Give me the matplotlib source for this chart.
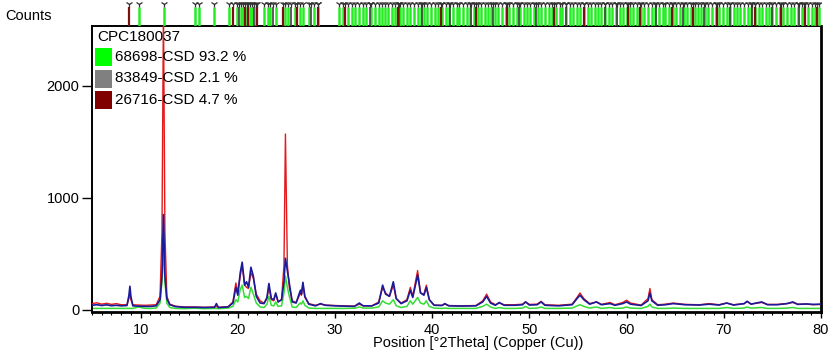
import numpy as np
import matplotlib.pyplot as plt
from matplotlib.patches import Rectangle
from matplotlib.ticker import MultipleLocator

plt.rcParams['font.family'] = ['Liberation Sans', 'DejaVu Sans']

# scan positions [deg 2theta]
two_theta = [5.0, 5.5, 6.0, 6.5, 7.0, 7.5, 8.0, 8.6, 8.8, 8.9, 9.0, 9.2, 9.8, 10.5, 11.0, 11.6,
             12.0, 12.2, 12.35, 12.5, 12.7, 13.0, 13.6, 14.5, 15.6, 16.5, 17.6, 17.8, 18.0, 19.0,
             19.5, 19.8, 20.0, 20.25, 20.45, 20.7, 20.9, 21.1, 21.35, 21.6, 21.9, 22.3, 22.7, 23.0,
             23.2, 23.45, 23.7, 23.9, 24.15, 24.5, 24.75, 24.9, 25.1, 25.3, 25.6, 26.0, 26.3, 26.45,
             26.55, 26.7, 26.9, 27.3, 28.0, 28.5, 29.0, 30.0, 31.0, 32.0, 32.5, 32.9, 33.8, 34.5,
             34.9, 35.2, 35.6, 36.0, 36.3, 36.8, 37.4, 37.75, 38.0, 38.5, 38.8, 39.15, 39.4, 39.7,
             40.2, 41.0, 41.3, 41.7, 43.0, 44.5, 45.2, 45.6, 46.0, 46.5, 46.9, 47.4, 48.5, 49.3,
             49.6, 50.0, 50.8, 51.2, 51.6, 53.0, 54.4, 54.9, 55.2, 55.6, 56.2, 56.9, 57.4, 58.3,
             58.8, 59.6, 60.0, 60.4, 61.5, 62.2, 62.4, 62.6, 63.2, 64.0, 64.8, 66.0, 67.5, 68.5,
             69.5, 70.3, 71.0, 72.1, 72.4, 72.8, 73.9, 74.5, 75.5, 76.5, 77.1, 77.6, 78.5, 79.2, 80.0]

observed = [40, 45, 38, 44, 36, 40, 35, 38, 130, 210, 120, 35, 32, 30, 30, 35,
            90, 300, 850, 300, 100, 45, 28, 22, 22, 20, 22, 55, 20, 25,
            60, 200, 130, 330, 425, 220, 250, 200, 380, 300, 120, 60, 55, 110,
            235, 100, 90, 150, 70, 90, 250, 460, 350, 240, 70, 60, 140, 175,
            140, 245, 120, 50, 35, 55, 40, 35, 32, 30, 60, 35, 35, 60,
            220, 140, 120, 250, 100, 55, 80, 175, 110, 310, 150, 130, 200, 90,
            40, 38, 55, 35, 33, 35, 70, 120, 60, 40, 65, 40, 40, 45,
            70, 42, 45, 70, 40, 35, 45, 100, 130, 90, 50, 70, 45, 55,
            40, 55, 70, 50, 38, 80, 150, 80, 40, 45, 55, 45, 42, 50,
            42, 60, 42, 55, 75, 50, 70, 45, 45, 55, 70, 48, 52, 48, 50]

calculated = [55, 62, 50, 58, 48, 55, 45, 45, 100, 150, 90, 45, 42, 40, 42, 45,
              120, 700, 2700, 700, 120, 50, 32, 25, 25, 22, 24, 30, 22, 28,
              70, 240, 160, 300, 400, 220, 200, 190, 330, 280, 140, 80, 60, 100,
              200, 90, 80, 140, 70, 90, 400, 1570, 400, 200, 80, 65, 120, 150,
              130, 220, 110, 55, 40, 50, 42, 38, 35, 33, 50, 35, 35, 70,
              200, 150, 120, 220, 100, 60, 90, 200, 120, 350, 150, 140, 220, 90,
              42, 40, 50, 38, 35, 38, 80, 140, 70, 45, 60, 45, 45, 50,
              70, 48, 50, 75, 45, 40, 50, 110, 150, 100, 55, 70, 48, 65,
              45, 65, 85, 60, 42, 100, 190, 90, 45, 50, 60, 48, 45, 55,
              45, 60, 45, 55, 75, 52, 65, 48, 48, 55, 65, 50, 50, 45, 48]

phase_68698 = [12, 12, 12, 12, 12, 12, 12, 12, 12, 12, 12, 12, 25, 12, 12, 15,
               60, 250, 560, 250, 60, 20, 12, 10, 14, 10, 12, 12, 10, 15,
               30, 90, 70, 180, 220, 110, 120, 100, 200, 140, 60, 25, 20, 50,
               120, 40, 35, 70, 30, 35, 150, 300, 200, 120, 25, 20, 50, 60,
               50, 80, 40, 15, 12, 12, 12, 12, 12, 14, 25, 15, 15, 25,
               80, 60, 50, 90, 35, 20, 30, 80, 50, 110, 60, 50, 80, 30,
               15, 12, 15, 12, 12, 12, 30, 50, 25, 12, 20, 12, 12, 15,
               30, 12, 15, 25, 12, 12, 15, 35, 45, 30, 15, 25, 12, 20,
               12, 15, 25, 15, 12, 30, 50, 25, 12, 12, 15, 12, 12, 12,
               12, 20, 12, 15, 25, 15, 20, 12, 12, 15, 20, 12, 12, 12, 12]

# reference pattern stick positions
sticks_68698 = [9.8, 12.4, 15.6, 16.0, 17.6, 19.1, 19.9, 20.3, 20.5, 20.9, 21.3, 21.5, 21.9,
                22.7, 23.1, 23.3, 23.9, 24.9, 25.2, 25.9, 26.4, 26.7, 27.3, 27.8, 28.2,
                30.4, 30.8, 31.3, 31.7, 32.1, 32.5, 32.9, 33.2, 33.7, 34.1, 34.5, 34.8, 35.1,
                35.5, 35.9, 36.2, 36.7, 37.0, 37.4, 37.7, 38.1, 38.5, 38.8, 39.2, 39.5, 39.9,
                40.3, 40.6, 41.0, 41.4, 41.7, 42.1, 42.5, 42.8, 43.2, 43.6, 43.9, 44.3, 44.7,
                45.0, 45.4, 45.7, 46.1, 46.5, 46.8, 47.2, 47.6, 47.9, 48.3, 48.7, 49.0, 49.4,
                49.8, 50.1, 50.5, 50.9, 51.2, 51.6, 52.0, 52.3, 52.7, 53.1, 53.4, 53.8, 54.2,
                54.5, 54.9, 55.2, 55.6, 56.0, 56.3, 56.7, 57.1, 57.4, 57.8, 58.2, 58.5, 58.9,
                59.3, 59.6, 60.0, 60.4, 60.7, 61.1, 61.5, 61.8, 62.2, 62.6, 62.9, 63.3, 63.7,
                64.0, 64.4, 64.8, 65.1, 65.5, 65.9, 66.2, 66.6, 67.0, 67.3, 67.7, 68.1, 68.4,
                68.8, 69.2, 69.5, 69.9, 70.3, 70.6, 71.0, 71.4, 71.7, 72.1, 72.5, 72.8, 73.2,
                73.6, 73.9, 74.3, 74.7, 75.0, 75.4, 75.8, 76.1, 76.5, 76.9, 77.2, 77.6, 78.0,
                78.3, 78.7, 79.1, 79.4, 79.8]
sticks_26716 = [8.8, 19.5, 20.7, 21.1, 22.0, 24.6, 26.1, 28.3, 31.0, 36.5, 40.9, 44.5, 47.7,
                52.5, 55.6, 60.1, 61.4, 64.7, 66.8, 69.3, 73.2, 75.9, 78.4, 79.6]
sticks_83849 = [20.1, 21.7, 23.6, 25.5, 27.5, 33.6, 36.6, 39.0, 41.8, 44.0, 46.3, 48.9, 50.7,
                53.8, 57.8, 59.0, 63.0, 65.8, 68.0, 70.6, 72.9, 75.0, 77.7]

legend_title = 'CPC180037'
legend_labels = ['68698-CSD 93.2 %', '83849-CSD 2.1 %', '26716-CSD 4.7 %']
legend_colors = ['#00ff00', '#808080', '#800000']

W, H = 834, 357
fig = plt.figure(figsize=(W / 100, H / 100), dpi=100)
x0, x1 = 92 / W, 821 / W
ax = fig.add_axes([x0, 45 / H, x1 - x0, (312 - 26) / H])

ax.plot(two_theta, phase_68698, color='#33dd33', lw=1.1, zorder=2)
ax.plot(two_theta, calculated, color='#e31a1c', lw=1.0, zorder=3)
ax.plot(two_theta, observed, color='#1a1a9a', lw=1.2, zorder=4)

ax.set_xlim(5, 80)
ax.set_ylim(-20, 2535)
ax.set_xticks([10, 20, 30, 40, 50, 60, 70, 80])
ax.xaxis.set_minor_locator(MultipleLocator(1))
ax.set_yticks([0, 1000, 2000])
ax.tick_params(axis='x', which='major', length=4, width=1, labelsize=10.5, pad=4)
ax.tick_params(axis='x', which='minor', length=2.5, width=0.8)
ax.tick_params(axis='y', length=7, width=1, labelsize=10.5, pad=2)
for side, lw in [('left', 1.4), ('bottom', 2.0), ('right', 2.0), ('top', 1.4)]:
    ax.spines[side].set_linewidth(lw)

# legend block in the upper left of the plot
ax.text(5 / 729, 1 - 11 / 286, legend_title, transform=ax.transAxes, fontsize=11,
        va='center', ha='left')
for i, (lab, col) in enumerate(zip(legend_labels, legend_colors)):
    yc = 1 - (31 + 21.5 * i) / 286
    ax.add_patch(Rectangle((3 / 729, yc - 9 / 286), 17 / 729, 18 / 286, transform=ax.transAxes,
                           facecolor=col, edgecolor='none', zorder=6))
    ax.text(23 / 729, yc, lab, transform=ax.transAxes, fontsize=11, va='center', ha='left',
            zorder=6)

# reference stick strip above the plot
sx = fig.add_axes([x0, (H - 26) / H, x1 - x0, 26 / H], frame_on=False)
sx.set_xlim(5, 80)
sx.set_ylim(0, 1)
sx.axis('off')
sx.vlines(sticks_68698, 0, 0.72, color='#22ee22', lw=1.8)
sx.vlines(sticks_83849, 0, 0.72, color='#404040', lw=1.2)
sx.vlines(sticks_26716, 0, 0.72, color='#7a1010', lw=1.6)
all_sticks = sticks_68698 + sticks_83849 + sticks_26716
sx.plot(all_sticks, [0.84] * len(all_sticks), ls='none', marker='1', ms=5, mew=0.9,
        color='#303030')

fig.text(5 / W, 1 - 16 / H, 'Counts', fontsize=10.5, va='center', ha='left')
fig.text(478 / W, 1 - 343 / H, 'Position [°2Theta] (Copper (Cu))', fontsize=10.5,
         va='center', ha='center')

fig.savefig('out.png', dpi=100)
